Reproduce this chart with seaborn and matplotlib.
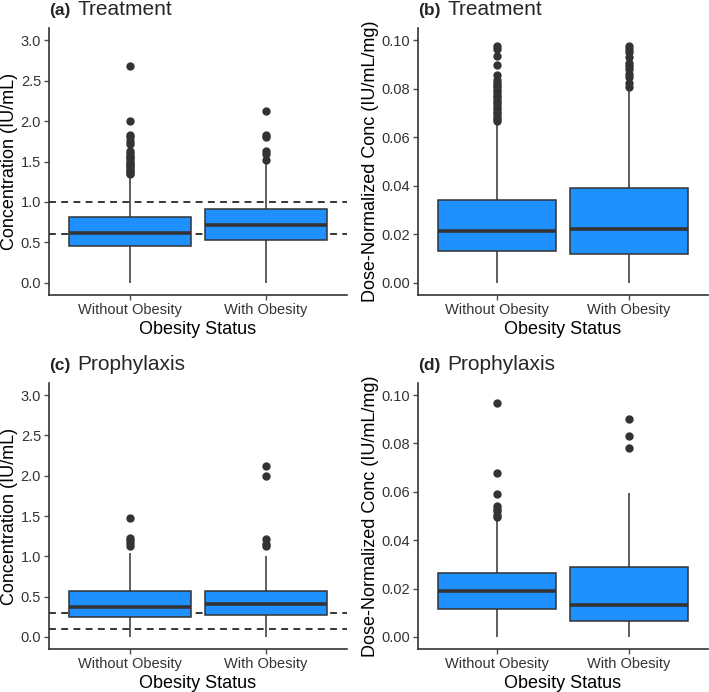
import numpy as np
import pandas as pd
import seaborn as sns
import matplotlib
matplotlib.use("Agg")
import matplotlib.pyplot as plt

groups = ["Without Obesity", "With Obesity"]

# box summaries: (low whisker, q1, median, q3, high whisker)
conc_trt = {"Without Obesity": (0.0, 0.459, 0.619, 0.81, 1.33),
            "With Obesity": (0.0, 0.533, 0.721, 0.914, 1.48)}
conc_trt_out = {"Without Obesity": [1.345, 1.36, 1.38, 1.39, 1.42, 1.44, 1.46, 1.48,
                                    1.50, 1.53, 1.55, 1.57, 1.60, 1.63, 1.72, 1.75,
                                    1.80, 1.83, 2.00, 2.68],
                "With Obesity": [1.52, 1.59, 1.63, 1.80, 1.83, 2.12]}

dn_trt = {"Without Obesity": (0.0, 0.013, 0.0213, 0.0342, 0.0655),
          "With Obesity": (0.0, 0.0119, 0.0220, 0.0389, 0.0790)}
dn_trt_out = {"Without Obesity": [0.0665, 0.0675, 0.0685, 0.0695, 0.0705, 0.0715,
                                  0.0725, 0.0735, 0.0745, 0.0755, 0.0765, 0.0775,
                                  0.0785, 0.0795, 0.0805, 0.0815, 0.0825, 0.0835,
                                  0.0857, 0.0898, 0.0936, 0.0965, 0.0975],
              "With Obesity": [0.0809, 0.0825, 0.0847, 0.0860, 0.0881, 0.0893,
                               0.0905, 0.0930, 0.0950, 0.0965, 0.0977]}

conc_pro = {"Without Obesity": (0.0, 0.246, 0.369, 0.566, 1.04),
            "With Obesity": (0.0, 0.266, 0.406, 0.566, 1.004)}
conc_pro_out = {"Without Obesity": [1.127, 1.16, 1.197, 1.23, 1.48],
                "With Obesity": [1.123, 1.156, 1.21, 1.996, 2.123]}

dn_pro = {"Without Obesity": (0.0, 0.0116, 0.0191, 0.0266, 0.0488),
          "With Obesity": (0.0, 0.0067, 0.0130, 0.0290, 0.0594)}
dn_pro_out = {"Without Obesity": [0.0495, 0.0505, 0.0522, 0.0530, 0.0540, 0.0592,
                                  0.0679, 0.0967],
              "With Obesity": [0.0783, 0.0831, 0.0902]}

ref_lines_trt = [1.0, 0.6]
ref_lines_pro = [0.3, 0.1]

BLUE = "#1E90FF"
DARK = "#333333"


def build_values(stats, fliers):
    # sorted sample whose linear quartiles hit q1/median/q3 exactly
    lo, q1, med, q3, hi = stats
    k = len(fliers)
    m = k + 2
    vals = [lo] + [q1] * m + [med] * m + [q3] * m + [q3, hi] + sorted(fliers)
    return vals


def make_frame(stats, outliers):
    rows = []
    for g in groups:
        for v in build_values(stats[g], outliers[g]):
            rows.append((g, v))
    return pd.DataFrame(rows, columns=["status", "value"])


sns.set_style("ticks")
plt.rcParams["font.family"] = ["Liberation Sans", "DejaVu Sans"]

fig = plt.figure(figsize=(7.09, 6.92), dpi=100)
ax_a = fig.add_axes([0.0687, 0.5737, 0.4207, 0.3858])
ax_b = fig.add_axes([0.5896, 0.5737, 0.409, 0.3858])
ax_c = fig.add_axes([0.0687, 0.0621, 0.4207, 0.3844])
ax_d = fig.add_axes([0.5896, 0.0621, 0.409, 0.3844])

panels = [
    (ax_a, conc_trt, conc_trt_out, "(a)", "Treatment", "Concentration (IU/mL)", ref_lines_trt, "conc"),
    (ax_b, dn_trt, dn_trt_out, "(b)", "Treatment", "Dose-Normalized Conc (IU/mL/mg)", None, "dn"),
    (ax_c, conc_pro, conc_pro_out, "(c)", "Prophylaxis", "Concentration (IU/mL)", ref_lines_pro, "conc"),
    (ax_d, dn_pro, dn_pro_out, "(d)", "Prophylaxis", "Dose-Normalized Conc (IU/mL/mg)", None, "dn"),
]

for ax, stats, outl, tag, title, ylab, refs, kind in panels:
    df = make_frame(stats, outl)
    sns.boxplot(data=df, x="status", y="value", order=groups, color=BLUE,
                saturation=1, width=0.9, linecolor=DARK, linewidth=1.1,
                showcaps=False, fliersize=5,
                flierprops=dict(marker="o", markerfacecolor=DARK,
                                markeredgecolor=DARK),
                medianprops=dict(color=DARK, linewidth=2.6),
                ax=ax)
    if refs:
        # reference lines sit behind the boxes
        for r in refs:
            ax.axhline(r, color="black", linestyle=(0, (4.5, 3.5)), linewidth=1.1, zorder=0.5)
    ax.set_xlim(-0.6, 1.6)
    if kind == "conc":
        ax.set_ylim(-0.15, 3.15)
        ticks = np.arange(0, 3.01, 0.5)
        ax.set_yticks(ticks)
        ax.set_yticklabels([f"{t:.1f}" for t in ticks])
    else:
        ax.set_ylim(-0.005, 0.105)
        ticks = np.arange(0, 0.101, 0.02)
        ax.set_yticks(ticks)
        ax.set_yticklabels([f"{t:.2f}" for t in ticks])
    ax.set_xlabel("Obesity Status", fontsize=13, color="black", labelpad=3)
    ax.set_ylabel(ylab, fontsize=13, color="black", labelpad=2)
    ax.tick_params(axis="both", labelsize=10.5, colors="#4D4D4D", length=3.5,
                   width=1, labelcolor="#333333")
    ax.tick_params(axis="y", pad=2)
    ax.tick_params(axis="x", pad=2, labelsize=10.5)
    sns.despine(ax=ax)
    for s in ["left", "bottom"]:
        ax.spines[s].set_color(DARK)
        ax.spines[s].set_linewidth(1.2)
    t1 = ax.annotate(tag, xy=(0, 1), xycoords="axes fraction", xytext=(0, 9.5),
                     textcoords="offset points", fontsize=12.5, fontweight="bold",
                     ha="left", va="baseline")
    ax.annotate(title, xy=(1, 1), xycoords=(t1, ax.transAxes), xytext=(5, 9.5),
                textcoords="offset points", fontsize=15, ha="left", va="baseline")

fig.savefig("out.png", dpi=100)
